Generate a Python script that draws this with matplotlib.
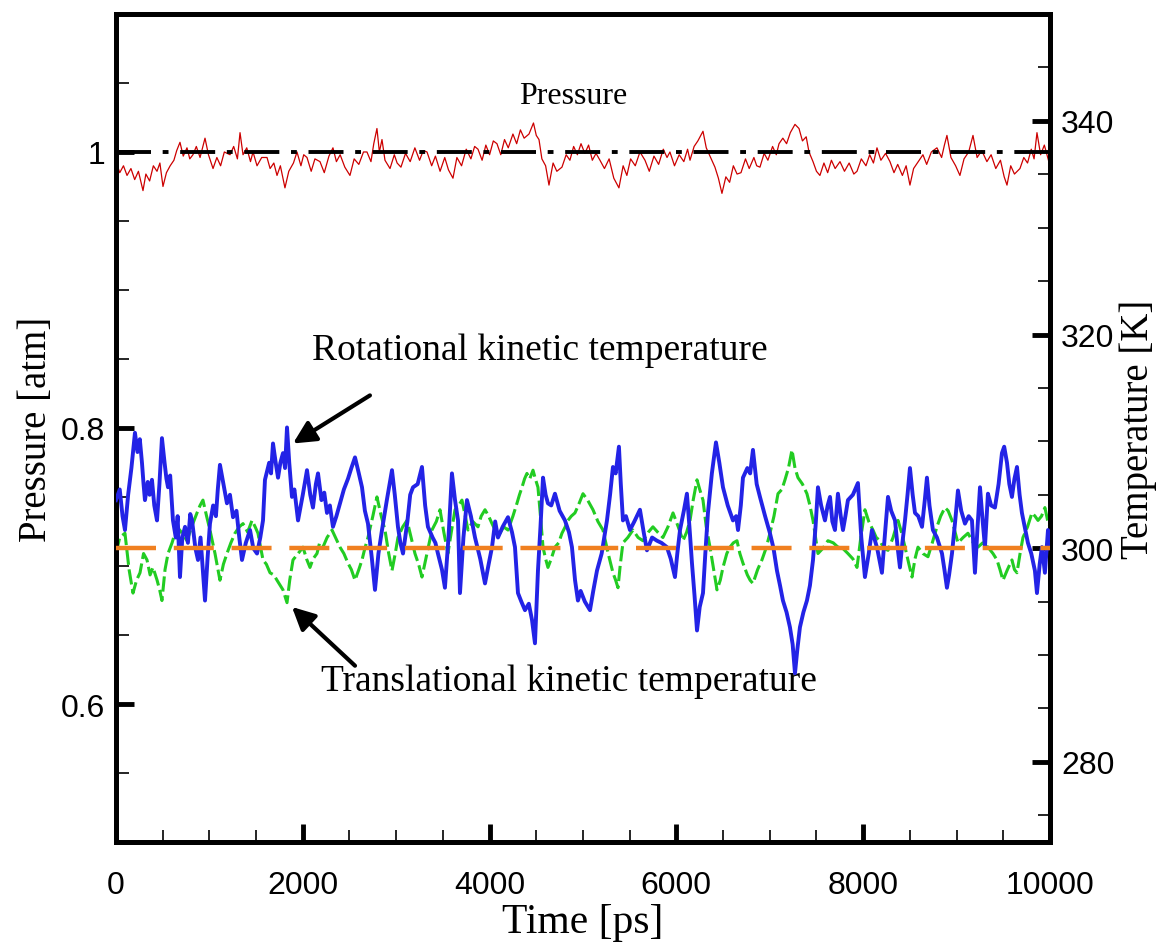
import matplotlib
matplotlib.use('Agg')
import matplotlib.pyplot as plt
from matplotlib.ticker import MultipleLocator, FixedLocator, FuncFormatter

# rotational kinetic temperature [K]
rot_t = [0, 40, 70, 96, 130, 165, 203, 230, 255, 278, 295, 310, 340, 360, 385, 410, 439, 465, 492,
         520, 540, 557, 580, 610, 640, 660, 685, 710, 739, 770, 795, 814, 850, 878, 905, 930, 953,
         980, 1006, 1040, 1070, 1090, 1113, 1150, 1188, 1220, 1253, 1290, 1320, 1349, 1390, 1435,
         1470, 1510, 1545, 1574, 1595, 1640, 1660, 1681, 1710, 1735, 1760, 1788, 1810, 1831, 1855,
         1884, 1910, 1949, 2000, 2045, 2080, 2109, 2140, 2163, 2200, 2230, 2259, 2290, 2323, 2360,
         2398, 2440, 2484, 2520, 2559, 2600, 2634, 2665, 2698, 2740, 2773, 2810, 2848, 2900, 2955,
         2985, 3019, 3045, 3073, 3120, 3150, 3180, 3230, 3276, 3310, 3340, 3390, 3420, 3447, 3490,
         3522, 3560, 3597, 3630, 3662, 3683, 3720, 3758, 3800, 3844, 3900, 3951, 3990, 4026, 4060,
         4090, 4140, 4197, 4240, 4272, 4304, 4340, 4379, 4420, 4454, 4486, 4518, 4545, 4572, 4600,
         4625, 4660, 4700, 4750, 4807, 4850, 4882, 4915, 4946, 4975, 5020, 5075, 5110, 5150, 5200,
         5257, 5290, 5321, 5350, 5385, 5405, 5428, 5460, 5503, 5550, 5610, 5650, 5685, 5740, 5792,
         5840, 5899, 5940, 5985, 6010, 6039, 6080, 6113, 6140, 6167, 6195, 6221, 6250, 6285, 6310,
         6338, 6380, 6424, 6460, 6499, 6550, 6606, 6640, 6660, 6690, 6713, 6760, 6790, 6820, 6860,
         6895, 6950, 7002, 7040, 7077, 7110, 7141, 7180, 7216, 7245, 7270, 7295, 7323, 7360, 7398,
         7430, 7463, 7490, 7516, 7550, 7591, 7620, 7645, 7670, 7698, 7730, 7760, 7784, 7810, 7837,
         7890, 7944, 7980, 8019, 8060, 8094, 8150, 8201, 8235, 8266, 8300, 8341, 8370, 8394, 8420,
         8448, 8475, 8501, 8530, 8555, 8590, 8630, 8660, 8683, 8710, 8747, 8790, 8844, 8870, 8897,
         8920, 8951, 8985, 9015, 9050, 9090, 9130, 9165, 9197, 9225, 9251, 9280, 9304, 9336, 9370,
         9411, 9450, 9486, 9510, 9540, 9565, 9593, 9620, 9647, 9675, 9700, 9730, 9764, 9800, 9839,
         9861, 9890, 9914, 9946, 9979, 10000]
rot_T = [304.5, 305.5, 303.0, 301.7, 305.0, 307.5, 310.8, 309.0, 310.2, 308.0, 306.0, 304.5, 306.2,
         305.0, 306.4, 304.0, 302.6, 306.0, 310.3, 308.0, 306.5, 305.7, 306.8, 302.6, 301.0, 303.0,
         297.3, 301.0, 302.0, 300.5, 303.2, 302.6, 300.0, 298.9, 301.0, 298.0, 295.1, 299.0, 302.3,
         304.0, 303.0, 305.5, 307.8, 306.0, 304.2, 305.0, 302.9, 303.5, 301.0, 298.9, 300.5, 301.7,
         300.0, 299.5, 301.0, 302.6, 306.4, 308.0, 307.0, 309.8, 308.0, 306.6, 308.0, 308.9, 307.5,
         311.3, 308.0, 304.8, 305.5, 302.6, 305.0, 307.3, 305.0, 303.8, 306.0, 307.0, 304.5, 305.2,
         303.3, 304.0, 302.0, 303.0, 304.2, 305.5, 306.5, 307.5, 308.5, 307.0, 305.7, 303.5, 302.3,
         299.0, 296.1, 299.5, 301.7, 304.5, 307.3, 305.0, 302.0, 300.5, 299.5, 302.5, 305.0, 305.7,
         306.0, 307.6, 304.0, 302.0, 301.0, 300.5, 299.5, 298.0, 296.3, 301.0, 307.0, 304.5, 302.6,
         295.8, 301.0, 304.5, 303.0, 301.0, 299.0, 296.7, 298.5, 300.1, 302.5, 301.0, 302.0, 302.9,
         301.5, 300.1, 295.8, 295.0, 294.2, 294.8, 293.3, 291.1, 297.9, 302.0, 306.6, 305.0, 304.2,
         304.0, 305.1, 303.5, 302.6, 301.5, 300.1, 297.0, 295.1, 296.0, 295.0, 294.2, 296.0, 297.9,
         299.5, 302.6, 305.0, 307.6, 307.0, 309.5, 306.0, 302.6, 303.0, 301.7, 302.5, 303.6, 301.5,
         299.8, 301.0, 300.7, 300.5, 300.1, 299.0, 297.3, 299.5, 301.7, 303.5, 305.1, 302.0, 298.6,
         295.5, 292.3, 294.5, 295.8, 299.5, 303.3, 307.0, 309.9, 308.0, 305.7, 304.0, 302.6, 303.0,
         301.7, 304.0, 306.6, 307.5, 307.0, 309.2, 306.0, 304.8, 303.0, 301.4, 300.0, 297.9, 296.5,
         295.1, 294.0, 292.6, 291.0, 288.3, 290.5, 292.6, 294.0, 295.1, 296.5, 298.9, 302.0, 305.7,
         304.0, 302.6, 304.0, 304.8, 302.5, 301.7, 305.1, 303.0, 301.7, 303.0, 304.5, 305.0, 306.1,
         301.0, 297.3, 299.5, 301.7, 300.0, 297.7, 301.5, 304.8, 303.5, 302.6, 300.0, 298.2, 300.5,
         302.6, 305.0, 307.5, 305.0, 303.3, 303.0, 302.0, 304.5, 306.6, 304.0, 301.7, 301.0, 299.5,
         298.0, 296.3, 297.5, 299.5, 302.5, 305.4, 303.5, 302.3, 303.0, 302.6, 297.7, 302.0, 305.7,
         302.5, 300.1, 305.1, 304.0, 303.8, 306.0, 308.9, 309.5, 308.0, 306.0, 304.8, 306.5, 307.6,
         305.0, 303.3, 302.0, 300.5, 299.5, 297.9, 295.8, 298.5, 300.1, 297.7, 301.7, 300.0]

# translational kinetic temperature [K]
tra_t = [0, 40, 96, 140, 182, 220, 257, 295, 332, 365, 396, 440, 470, 492, 525, 557, 600, 653,
         700, 760, 810, 867, 900, 931, 970, 1006, 1060, 1113, 1150, 1188, 1230, 1274, 1320, 1360,
         1410, 1456, 1490, 1520, 1550, 1574, 1610, 1649, 1690, 1724, 1760, 1788, 1810, 1831, 1860,
         1895, 1950, 2002, 2040, 2077, 2110, 2152, 2180, 2216, 2260, 2313, 2350, 2398, 2440, 2484,
         2520, 2559, 2600, 2634, 2665, 2698, 2750, 2794, 2840, 2880, 2920, 2955, 2990, 3019, 3070,
         3116, 3160, 3201, 3240, 3276, 3330, 3383, 3430, 3469, 3510, 3554, 3590, 3630, 3670, 3704,
         3740, 3769, 3820, 3876, 3910, 3951, 3990, 4026, 4070, 4111, 4150, 4197, 4250, 4293, 4320,
         4347, 4375, 4400, 4430, 4465, 4490, 4518, 4545, 4572, 4600, 4625, 4660, 4700, 4740, 4775,
         4810, 4839, 4875, 4914, 4950, 5000, 5050, 5107, 5160, 5214, 5270, 5321, 5350, 5375, 5400,
         5428, 5480, 5535, 5590, 5642, 5700, 5749, 5800, 5856, 5910, 5964, 6020, 6071, 6110, 6146,
         6180, 6221, 6250, 6285, 6320, 6360, 6400, 6435, 6470, 6499, 6540, 6574, 6610, 6649, 6680,
         6713, 6760, 6790, 6820, 6870, 6916, 6960, 7002, 7045, 7088, 7130, 7163, 7200, 7238, 7270,
         7302, 7350, 7398, 7430, 7463, 7490, 7516, 7570, 7623, 7680, 7730, 7780, 7837, 7890, 7934,
         7975, 8019, 8060, 8105, 8140, 8180, 8220, 8266, 8320, 8373, 8410, 8448, 8490, 8523, 8555,
         8587, 8640, 8694, 8740, 8790, 8830, 8876, 8910, 8951, 8985, 9015, 9070, 9122, 9180, 9229,
         9280, 9336, 9390, 9433, 9465, 9497, 9545, 9593, 9620, 9647, 9680, 9711, 9760, 9807, 9840,
         9872, 9910, 9946, 9975, 10000]
tra_T = [299.5, 301.0, 301.4, 298.0, 295.8, 297.0, 297.7, 299.5, 298.9, 297.5, 298.2, 297.0, 296.0,
         295.1, 298.0, 299.5, 300.5, 302.0, 301.5, 300.7, 302.0, 303.3, 304.0, 304.5, 303.0, 301.7,
         299.5, 297.0, 298.5, 299.5, 300.5, 301.4, 302.0, 302.3, 301.5, 302.6, 302.0, 301.4, 300.0,
         298.9, 298.5, 297.7, 297.5, 297.0, 296.5, 296.1, 295.5, 294.9, 297.0, 298.9, 299.5, 300.1,
         299.0, 298.2, 299.0, 299.5, 300.5, 300.1, 301.0, 301.7, 301.0, 300.1, 299.5, 298.6, 298.0,
         297.0, 298.0, 298.9, 300.0, 301.0, 303.0, 304.8, 303.0, 301.7, 299.5, 297.9, 299.5, 301.0,
         302.0, 302.6, 301.0, 299.5, 298.5, 297.3, 299.5, 301.7, 302.5, 303.6, 301.5, 299.5, 301.5,
         303.6, 304.0, 304.5, 303.0, 301.7, 302.5, 302.0, 303.0, 303.6, 303.0, 302.3, 301.5, 301.4,
         302.0, 301.7, 303.0, 304.2, 305.0, 305.7, 306.5, 307.0, 306.5, 307.3, 306.5, 305.7, 303.0,
         300.1, 299.0, 298.2, 299.0, 300.1, 300.5, 301.4, 302.0, 302.6, 303.0, 303.3, 304.0, 305.1,
         304.5, 303.6, 302.5, 301.7, 299.5, 297.7, 297.0, 296.3, 298.5, 300.5, 301.0, 301.7, 301.0,
         300.7, 301.5, 302.0, 301.5, 301.0, 302.0, 303.3, 302.0, 300.7, 301.5, 302.6, 304.5, 306.4,
         305.5, 304.5, 302.0, 300.1, 298.0, 296.1, 297.0, 298.2, 299.5, 300.1, 300.5, 300.7, 299.5,
         298.6, 297.5, 297.0, 296.7, 298.0, 298.9, 300.0, 301.4, 303.0, 305.1, 305.5, 306.4, 307.5,
         309.2, 307.5, 306.6, 306.0, 305.1, 304.0, 302.6, 301.0, 299.5, 300.0, 300.7, 300.5, 300.1,
         300.0, 299.5, 299.0, 298.2, 301.0, 303.6, 302.5, 301.7, 301.0, 300.7, 300.0, 299.8, 301.0,
         302.6, 301.5, 300.1, 298.5, 297.3, 299.0, 300.1, 299.5, 299.2, 300.5, 302.0, 303.0, 303.8,
         303.5, 302.6, 301.5, 300.5, 301.0, 301.4, 300.5, 300.1, 300.5, 300.1, 299.5, 298.9, 298.0,
         297.0, 298.0, 298.9, 298.0, 297.7, 299.5, 301.0, 302.0, 303.3, 303.0, 302.6, 303.0, 303.8,
         302.6, 302.0]

# pressure [atm]
pres_t = [0, 40, 80, 118, 160, 200, 240, 289, 320, 360, 400, 439, 470, 503, 540, 580, 620, 650,
          685, 720, 760, 790, 824, 860, 900, 953, 990, 1039, 1080, 1120, 1160, 1221, 1260, 1300,
          1328, 1360, 1400, 1440, 1467, 1510, 1560, 1617, 1650, 1690, 1724, 1760, 1809, 1850, 1900,
          1938, 1980, 2010, 2045, 2090, 2130, 2184, 2230, 2280, 2323, 2360, 2400, 2450, 2505, 2550,
          2600, 2650, 2687, 2730, 2760, 2794, 2820, 2848, 2880, 2934, 2980, 3010, 3051, 3100, 3150,
          3200, 3250, 3290, 3330, 3380, 3420, 3470, 3520, 3560, 3608, 3650, 3700, 3750, 3800, 3840,
          3876, 3920, 3960, 4000, 4040, 4079, 4120, 4160, 4200, 4250, 4290, 4330, 4370, 4422, 4470,
          4500, 4529, 4560, 4600, 4636, 4680, 4720, 4775, 4820, 4860, 4900, 4940, 4979, 5020, 5060,
          5100, 5140, 5182, 5230, 5280, 5330, 5385, 5430, 5470, 5510, 5560, 5610, 5664, 5710, 5760,
          5810, 5860, 5900, 5931, 5980, 6030, 6080, 6120, 6146, 6190, 6230, 6285, 6320, 6360, 6413,
          6450, 6488, 6530, 6570, 6610, 6650, 6692, 6740, 6780, 6830, 6860, 6895, 6940, 6980, 7030,
          7070, 7099, 7140, 7180, 7220, 7270, 7313, 7350, 7390, 7420, 7463, 7500, 7537, 7580, 7620,
          7660, 7700, 7752, 7800, 7850, 7900, 7934, 7980, 8030, 8070, 8110, 8148, 8190, 8240, 8287,
          8330, 8370, 8420, 8460, 8501, 8540, 8590, 8640, 8680, 8730, 8790, 8840, 8870, 8897, 8940,
          8990, 9036, 9080, 9130, 9176, 9220, 9270, 9325, 9370, 9420, 9470, 9510, 9540, 9580, 9620,
          9679, 9720, 9760, 9800, 9830, 9861, 9900, 9940, 9968, 10000]
pres_P = [0.993, 0.985, 0.990, 0.983, 0.988, 0.980, 0.986, 0.972, 0.984, 0.979, 0.990, 0.986, 0.992,
          0.975, 0.985, 0.990, 0.994, 1.001, 1.007, 0.997, 1.003, 0.995, 0.998, 1.004, 0.996, 1.010,
          0.998, 0.988, 0.996, 0.990, 1.000, 0.998, 1.004, 0.995, 1.014, 0.998, 1.003, 0.993, 1.000,
          0.990, 0.996, 0.996, 0.988, 0.992, 0.983, 0.990, 0.974, 0.986, 0.992, 1.000, 0.990, 0.998,
          0.996, 0.986, 0.995, 0.993, 0.985, 0.997, 1.003, 0.993, 0.998, 0.989, 0.983, 0.995, 0.991,
          1.000, 1.000, 0.993, 1.006, 1.017, 1.000, 1.009, 0.994, 0.988, 0.998, 0.992, 0.989, 0.999,
          0.993, 1.003, 0.994, 1.001, 1.000, 0.990, 0.997, 0.986, 0.996, 0.987, 0.981, 0.996, 0.990,
          1.002, 0.995, 1.004, 1.002, 0.994, 1.005, 0.998, 1.008, 1.006, 0.998, 1.009, 1.003, 1.013,
          1.006, 1.016, 1.010, 1.013, 1.021, 1.012, 1.009, 0.995, 0.990, 0.976, 0.992, 0.986, 0.989,
          0.998, 0.994, 1.004, 0.998, 1.006, 0.999, 1.005, 0.994, 0.999, 0.994, 0.988, 0.995, 0.981,
          0.974, 0.990, 0.983, 0.995, 0.990, 1.000, 0.994, 0.986, 0.997, 0.991, 1.002, 0.996, 1.000,
          0.990, 0.998, 0.993, 1.002, 0.994, 1.004, 1.008, 1.015, 1.003, 0.997, 0.989, 0.981, 0.970,
          0.982, 0.978, 0.990, 0.984, 0.985, 0.995, 0.988, 0.996, 0.990, 0.989, 0.999, 0.994, 1.004,
          0.998, 1.006, 1.010, 1.006, 1.014, 1.020, 1.017, 1.008, 1.011, 1.000, 0.993, 0.986, 0.983,
          0.992, 0.985, 0.994, 0.988, 0.993, 0.986, 0.992, 0.984, 0.986, 0.995, 0.990, 0.998, 0.992,
          1.003, 0.994, 0.999, 0.993, 0.985, 0.991, 0.983, 0.990, 0.976, 0.988, 0.993, 0.998, 0.991,
          1.000, 1.003, 0.996, 1.005, 1.012, 0.996, 0.990, 0.983, 0.995, 1.000, 1.012, 0.996, 1.001,
          0.993, 0.998, 0.988, 0.994, 0.982, 0.976, 0.990, 0.984, 0.988, 0.996, 0.992, 1.002, 0.995,
          1.014, 0.998, 1.005, 0.998, 0.990]

p_ref = 1.0
T_ref = 300.0

serif = ['Liberation Serif', 'DejaVu Serif']
sans = ['Liberation Sans', 'DejaVu Sans']

fig = plt.figure(figsize=(11.67, 9.53), dpi=100)
ax = fig.add_axes([0.0994, 0.1154, 0.8003, 0.8689])
ax2 = ax.twinx()

ax.plot(pres_t, pres_P, color='#cc0000', lw=0.9, zorder=2)
ax.plot([0, 10000], [p_ref, p_ref], color='k', lw=2.8, dashes=(9, 3, 1.5, 3), zorder=3)

ax2.plot(tra_t, tra_T, color='#22cc22', lw=2.2, dashes=(5, 1.5), zorder=2)
ax2.plot(rot_t, rot_T, color='#2323e6', lw=2.8, zorder=3)
ax2.plot([0, 10000], [T_ref, T_ref], color='#f08020', lw=3.2, dashes=(9, 4), zorder=4)

ax.set_xlim(0, 10000)
ax.set_ylim(0.5, 1.1)
ax2.set_ylim(272.5, 350)

ax.xaxis.set_major_locator(MultipleLocator(2000))
ax.xaxis.set_minor_locator(MultipleLocator(500))
ax.yaxis.set_major_locator(FixedLocator([0.6, 0.8, 1.0]))
ax.yaxis.set_minor_locator(MultipleLocator(0.05))
ax.yaxis.set_major_formatter(FuncFormatter(lambda v, p: '%g' % round(v, 3)))
ax2.yaxis.set_major_locator(FixedLocator([280, 300, 320, 340]))
ax2.yaxis.set_minor_locator(MultipleLocator(5))

for a in (ax, ax2):
    a.tick_params(which='major', direction='in', length=13, width=3.5, labelsize=23, pad=8)
    a.tick_params(which='minor', direction='in', length=9, width=1.2)
    for s in a.spines.values():
        s.set_linewidth(3.5)
    for lab in a.get_xticklabels() + a.get_yticklabels():
        lab.set_fontfamily(sans)
ax.tick_params(axis='x', pad=20)
ax.tick_params(top=False, right=False, which='both')
ax2.tick_params(left=False, which='both')

ax.set_xlabel('Time [ps]', fontsize=30, family=serif, labelpad=2)
ax.set_ylabel('Pressure [atm]', fontsize=28, family=serif, labelpad=4)
ax2.set_ylabel('Temperature [K]', fontsize=28, family=serif, labelpad=4)

ax.text(4893, 1.041, 'Pressure', fontsize=23, family=serif, ha='center', va='center')
ax.text(4540, 0.857, 'Rotational kinetic temperature', fontsize=27, family=serif,
        ha='center', va='center')
ax.text(4850, 0.617, 'Translational kinetic temperature', fontsize=27, family=serif,
        ha='center', va='center')

arrow = dict(arrowstyle='-|>', lw=3, color='k', mutation_scale=34, shrinkA=0, shrinkB=0)
ax2.annotate('', xy=(1895, 309.8), xytext=(2719, 314.3), arrowprops=arrow)
ax2.annotate('', xy=(1884, 294.5), xytext=(2559, 289.0), arrowprops=arrow)

fig.savefig('out.png', dpi=100)
